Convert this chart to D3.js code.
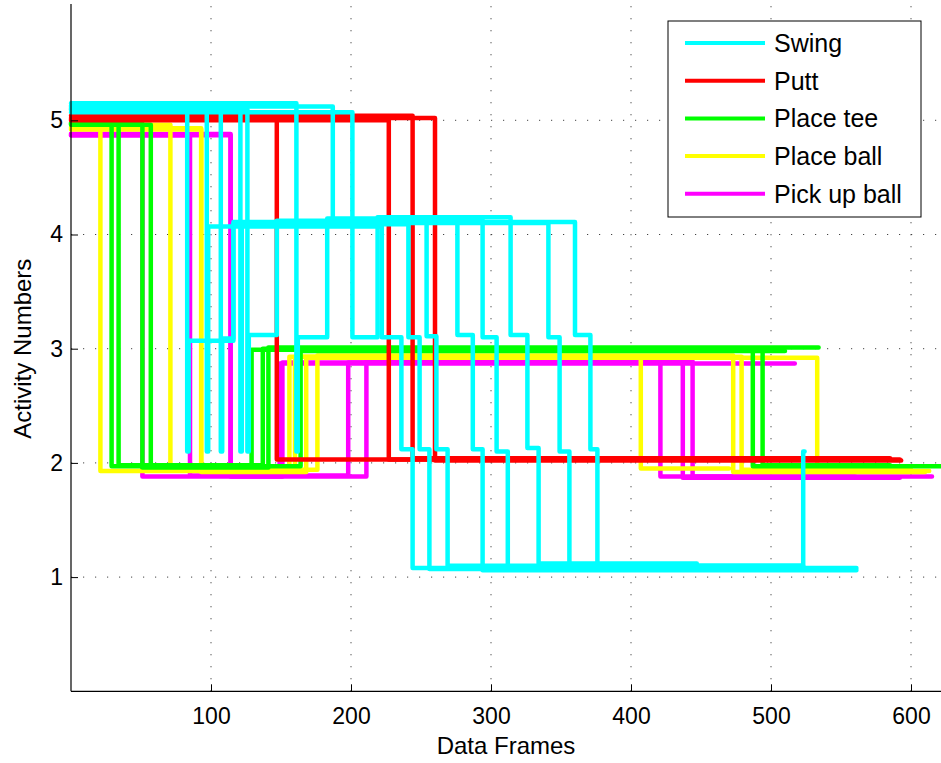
<!DOCTYPE html>
<html>
<head>
<meta charset="utf-8">
<script src="https://cdn.jsdelivr.net/npm/d3@7"></script>
<style>
  body { margin: 0; background: #fff; }
  text { font-family: "Liberation Sans", Arial, sans-serif; fill: #000; }
</style>
</head>
<body>
<div id="chart"></div>
<script>
// Activity class names and colours (legend order)
const activities = ["Swing", "Putt", "Place tee", "Place ball", "Pick up ball"];
const activityColors = ["#00ffff", "#ff0000", "#00ff00", "#ffff00", "#ff00ff"];

// Tick values
const xTicks = [100, 200, 300, 400, 500, 600];
const yTicks = [1, 2, 3, 4, 5];

// Each trial: [frame where the level starts, activity level], last pair = end of trial
const swingTrials = [
  [[0, 5.13], [97, 2.1], [98, 4.07], [222, 3.1], [236, 2.12], [244, 1.08], [447, 1.08]],
  [[0, 5.11], [107, 2.1], [108, 3.09], [116, 4.09], [241, 3.1], [249, 2.12], [256, 1.07], [492, 1.07]],
  [[0, 5.1], [126, 2.1], [127, 3.12], [147, 4.12], [254, 3.11], [261, 2.12], [269, 1.1], [523, 2.1], [524, 2.1]],
  [[0, 5.15], [161, 2.1], [162, 3.1], [183, 4.14], [276, 3.12], [287, 2.12], [294, 1.06], [561, 1.06]],
  [[0, 5.12], [187, 4.13], [294, 3.1], [304, 2.1], [312, 1.09], [492, 1.09]],
  [[0, 5.07], [201, 3.1], [219, 4.15], [314, 3.12], [326, 2.13], [334, 1.12], [447, 1.12]],
  [[0, 5.1], [121, 2.1], [122, 4.1], [341, 3.1], [349, 2.1], [356, 1.1], [523, 1.1]],
  [[0, 5.09], [83, 2.1], [84, 3.07], [116, 4.11], [360, 3.12], [371, 2.12], [376, 1.08], [561, 1.08]]
];
const puttTrials = [
  [[0, 5.01], [147, 2.03], [592, 2.03]],
  [[0, 5.0], [227, 2.03], [570, 2.03]],
  [[0, 5.04], [244, 2.04], [585, 2.04]],
  [[0, 5.02], [260, 2.02], [593, 2.02]]
];
const placeTeeTrials = [
  [[0, 4.98], [29, 1.97], [129, 2.99], [487, 1.97], [621, 1.97]],
  [[0, 4.97], [34, 1.98], [137, 3.0], [494, 1.98], [585, 1.98]],
  [[0, 4.97], [51, 1.96], [141, 3.01], [534, 3.01]],
  [[0, 4.96], [57, 1.97], [164, 2.98], [510, 2.98]]
];
const placeBallTrials = [
  [[0, 4.94], [21, 1.93], [156, 2.93], [407, 1.95], [470, 1.95]],
  [[0, 4.96], [71, 1.94], [176, 2.94], [473, 1.92], [610, 1.92]],
  [[0, 4.93], [93, 1.92], [168, 2.92], [533, 1.93], [613, 1.93]],
  [[0, 4.92], [93, 1.93], [160, 2.93], [479, 1.94], [600, 1.94]]
];
const pickUpBallTrials = [
  [[0, 4.88], [51, 1.88], [151, 2.88], [421, 1.88], [615, 1.88]],
  [[0, 4.87], [85, 1.89], [198, 2.88], [437, 1.87], [592, 1.87]],
  [[0, 4.88], [114, 1.88], [211, 2.89], [444, 1.88], [560, 1.88]],
  [[0, 4.87], [114, 1.89], [149, 2.87], [517, 2.87]]
];

const trialsByActivity = [swingTrials, puttTrials, placeTeeTrials, placeBallTrials, pickUpBallTrials];

const width = 941;
const height = 763;
const svg = d3.select('#chart')
  .append('svg')
    .attr('width', width)
    .attr('height', height);

const x = d3.scaleLinear().domain([0, 621]).range([71, 940.4]);
const y = d3.scaleLinear().domain([0, 6]).range([691.3, 6.1]);

// dotted grid
const grid = svg.append('g').attr('class', 'grid');
grid.selectAll('.vgrid')
  .data(xTicks)
  .join('line')
    .attr('x1', d => x(d)).attr('x2', d => x(d))
    .attr('y1', y(0)).attr('y2', y(6))
    .attr('stroke', '#444')
    .attr('stroke-width', 1)
    .attr('stroke-dasharray', '1.2,10.8');
grid.selectAll('.hgrid')
  .data(yTicks)
  .join('line')
    .attr('x1', x(0)).attr('x2', width)
    .attr('y1', d => y(d)).attr('y2', d => y(d))
    .attr('stroke', '#444')
    .attr('stroke-width', 1)
    .attr('stroke-dasharray', '1.2,10.8');

// trial lines: draw pick up ball first, swing last (on top)
const line = d3.line()
  .x(d => x(d[0]))
  .y(d => y(d[1]))
  .curve(d3.curveStepAfter);

const drawOrder = [4, 3, 2, 1, 0];
drawOrder.forEach(i => {
  svg.append('g')
    .selectAll('path')
    .data(trialsByActivity[i])
    .join('path')
      .attr('d', line)
      .attr('fill', 'none')
      .attr('stroke', activityColors[i])
      .attr('stroke-width', 4.5)
      .attr('stroke-linejoin', 'round')
      .attr('stroke-linecap', 'round');
});

// axes, ticks pointing inwards
const xAxis = svg.append('g')
  .attr('transform', `translate(0,${y(0)})`)
  .call(d3.axisBottom(x).tickValues(xTicks).tickSize(-7).tickPadding(16));
const yAxis = svg.append('g')
  .attr('transform', `translate(${x(0)},0)`)
  .call(d3.axisLeft(y).tickValues(yTicks).tickSize(-7).tickPadding(8).tickFormat(d3.format('d')));

[xAxis, yAxis].forEach(ax => {
  ax.select('.domain').remove();
  ax.selectAll('line').attr('stroke', '#000');
  ax.selectAll('text').attr('font-size', 23).attr('font-family', '"Liberation Sans", Arial, sans-serif');
});

svg.append('line')
  .attr('x1', x(0)).attr('x2', width)
  .attr('y1', y(0)).attr('y2', y(0))
  .attr('stroke', '#000').attr('stroke-width', 1.2);
svg.append('line')
  .attr('x1', x(0)).attr('x2', x(0))
  .attr('y1', 4).attr('y2', y(0))
  .attr('stroke', '#000').attr('stroke-width', 1.2);

// axis titles
svg.append('text')
  .attr('x', (x(0) + width) / 2)
  .attr('y', 754)
  .attr('text-anchor', 'middle')
  .attr('font-size', 24)
  .text('Data Frames');
svg.append('text')
  .attr('transform', `translate(31,${y(3)}) rotate(-90)`)
  .attr('text-anchor', 'middle')
  .attr('font-size', 24)
  .text('Activity Numbers');

// legend
const legend = svg.append('g').attr('transform', 'translate(668,21)');
legend.append('rect')
  .attr('width', 253)
  .attr('height', 196)
  .attr('fill', '#fff')
  .attr('stroke', '#000')
  .attr('stroke-width', 1);
const legendItems = legend.selectAll('.legend-item')
  .data(activities)
  .join('g')
    .attr('class', 'legend-item')
    .attr('transform', (d, i) => `translate(0,${22 + i * 37.7})`);
legendItems.append('line')
  .attr('x1', 17).attr('x2', 97)
  .attr('stroke', (d, i) => activityColors[i])
  .attr('stroke-width', 4);
legendItems.append('text')
  .attr('x', 106)
  .attr('dy', '0.36em')
  .attr('font-size', 25)
  .text(d => d);
</script>
</body>
</html>
